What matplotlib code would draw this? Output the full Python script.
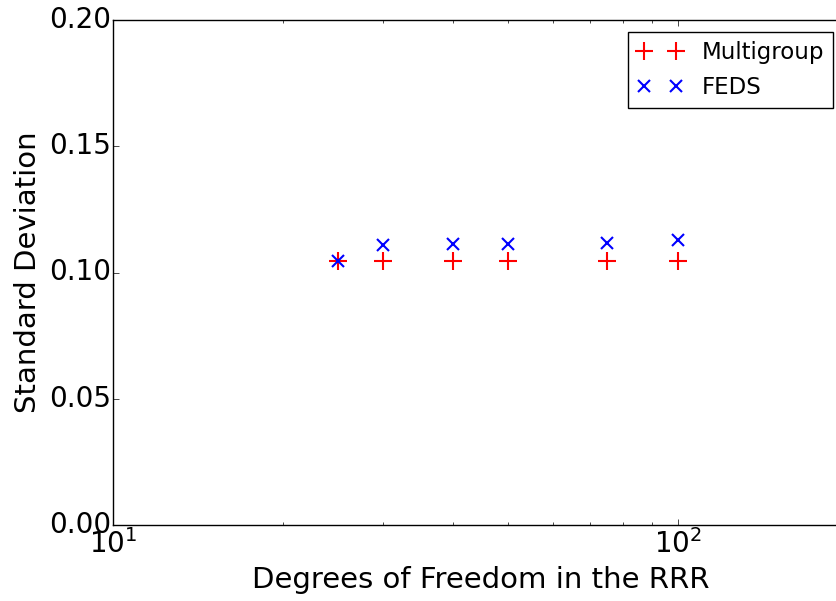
import matplotlib
matplotlib.use("Agg")
import matplotlib.pyplot as plt
from matplotlib.ticker import FormatStrFormatter

# data
dof = [25, 30, 40, 50, 75, 100]
std_multigroup = [0.1046, 0.1046, 0.1046, 0.1046, 0.1046, 0.1046]
std_feds = [0.1046, 0.1109, 0.1112, 0.1112, 0.1116, 0.1128]

plt.style.use("classic")
plt.rcParams["mathtext.fontset"] = "dejavusans"
plt.rcParams["font.family"] = "DejaVu Sans"

fig = plt.figure(figsize=(8.36, 6.01), dpi=100, facecolor="white")
W, H = 836.0, 601.0
ax = fig.add_axes([113 / W, 1 - 525 / H, (848 - 113) / W, 505 / H])

ax.plot(dof, std_multigroup, "r+", markersize=13, markeredgewidth=1.5, label="Multigroup")
ax.plot(dof, std_feds, "bx", markersize=9, markeredgewidth=1.5, label="FEDS")

ax.set_xscale("log")
ax.set_xlim(10, 200)
ax.set_ylim(0.0, 0.2)
ax.set_yticks([0.0, 0.05, 0.10, 0.15, 0.20])
ax.yaxis.set_major_formatter(FormatStrFormatter("%.2f"))
ax.tick_params(labelsize=20, pad=3)
ax.tick_params(axis="y", pad=1.5)
ax.set_xlabel("Degrees of Freedom in the RRR", fontsize=21)
ax.set_ylabel("Standard Deviation", fontsize=21)

ax.legend(loc="upper right", bbox_to_anchor=(833 / W, 1 - 32 / H),
          bbox_transform=fig.transFigure, borderaxespad=0, numpoints=2,
          fontsize=16.5)

fig.savefig("out.png", dpi=100, facecolor="white")
